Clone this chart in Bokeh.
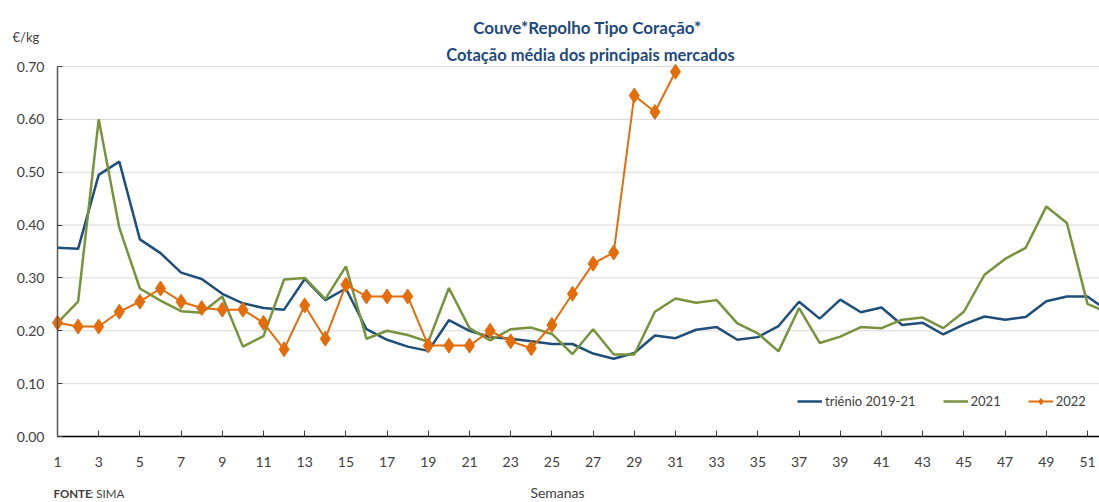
from bokeh.plotting import figure
from bokeh.models import (Range1d, Label, Legend, LegendItem, FixedTicker,
                          ColumnDataSource, CustomJSTickFormatter)
from bokeh.embed import file_html
from bokeh.resources import INLINE

weeks = list(range(1, 53))
trienio = [0.357, 0.355, 0.495, 0.520, 0.373, 0.347, 0.310, 0.298, 0.270, 0.252,
           0.243, 0.240, 0.298, 0.258, 0.280, 0.203, 0.183, 0.170, 0.162, 0.220,
           0.200, 0.188, 0.185, 0.180, 0.175, 0.175, 0.157, 0.147, 0.158, 0.191,
           0.186, 0.202, 0.207, 0.183, 0.188, 0.209, 0.255, 0.223, 0.259, 0.235,
           0.244, 0.211, 0.215, 0.193, 0.212, 0.227, 0.221, 0.226, 0.256, 0.265,
           0.265, 0.237]
y2021 = [0.215, 0.255, 0.600, 0.395, 0.280, 0.257, 0.237, 0.234, 0.265, 0.170,
         0.190, 0.297, 0.300, 0.260, 0.322, 0.185, 0.200, 0.192, 0.179, 0.281,
         0.205, 0.182, 0.203, 0.206, 0.194, 0.156, 0.203, 0.155, 0.155, 0.236,
         0.261, 0.253, 0.258, 0.214, 0.195, 0.161, 0.243, 0.177, 0.189, 0.207,
         0.205, 0.221, 0.225, 0.205, 0.236, 0.306, 0.336, 0.357, 0.435, 0.404,
         0.251, 0.234]
weeks_2022 = list(range(1, 32))
y2022 = [0.215, 0.208, 0.208, 0.236, 0.255, 0.280, 0.255, 0.243, 0.240, 0.240,
         0.215, 0.165, 0.248, 0.185, 0.287, 0.265, 0.265, 0.265, 0.172, 0.172,
         0.172, 0.200, 0.180, 0.167, 0.211, 0.270, 0.327, 0.348, 0.645, 0.614,
         0.690]
x_ticks = list(range(1, 52, 2))
y_ticks = [0.0, 0.1, 0.2, 0.3, 0.4, 0.5, 0.6, 0.7]

title_lines = ["Couve*Repolho Tipo Coração*", "Cotação média dos principais mercados"]
legend_labels = ["triénio 2019-21", "2021", "2022"]
unit_label = "€/kg"
x_title = "Semanas"
source_bold = "FONTE"
source_rest = ": SIMA"

BLUE = "#1F4E79"
GREEN = "#77933C"
ORANGE = "#E46C0A"
TXT = "#404040"
TITLE_C = "#1F497D"
FONT = "Lato"

W, H = 1099, 502
# plot area in page pixels: x 57..1099 (week 1 at 57, 20.6 px per week), y 66 (0.70) .. 436 (0.00)
X0_PX, WEEK_PX = 57, 20.6
Y0_PX, YTOP_PX = 436, 66
y_per_px = 0.70 / (Y0_PX - YTOP_PX)
x_start = 1 - X0_PX / WEEK_PX
x_end = 1 + (W - X0_PX) / WEEK_PX
y_start = -(H - Y0_PX) * y_per_px
y_end = 0.70 + YTOP_PX * y_per_px

p = figure(width=W, height=H, output_backend="svg", toolbar_location=None,
           title=None, x_range=Range1d(x_start, x_end),
           y_range=Range1d(y_start, y_end),
           min_border=0, min_border_left=0, min_border_right=0,
           min_border_top=0, min_border_bottom=0)
p.outline_line_color = None
p.xgrid.visible = False
p.ygrid.visible = False

# horizontal gridlines spanning the plot area only
p.segment(x0=[1] * len(y_ticks), x1=[x_end] * len(y_ticks), y0=y_ticks, y1=y_ticks,
          line_color="#d9d9d9", line_width=1)

p.xaxis.fixed_location = 0
p.xaxis.bounds = (1, x_end)
p.xaxis.ticker = FixedTicker(ticks=x_ticks)
p.xaxis.axis_line_color = "black"
p.xaxis.axis_line_width = 1.5
p.xaxis.major_tick_in = 6
p.xaxis.major_tick_out = 0
p.xaxis.major_tick_line_color = "#404040"
p.xaxis.minor_tick_line_color = None
p.xaxis.major_label_standoff = 20
p.xaxis.major_label_text_font = FONT
p.xaxis.major_label_text_font_size = "14px"
p.xaxis.major_label_text_color = TXT

p.yaxis.fixed_location = 1
p.yaxis.bounds = (0, 0.70)
p.yaxis.ticker = FixedTicker(ticks=y_ticks)
p.yaxis.axis_line_color = "#595959"
p.yaxis.axis_line_width = 1.5
p.yaxis.major_tick_in = 5
p.yaxis.major_tick_out = 0
p.yaxis.major_tick_line_color = "#404040"
p.yaxis.minor_tick_line_color = None
p.yaxis.major_label_standoff = 13
p.yaxis.major_label_text_font = FONT
p.yaxis.major_label_text_font_size = "14px"
p.yaxis.major_label_text_color = TXT
p.yaxis.formatter = CustomJSTickFormatter(code="return tick.toFixed(2);")

src_t = ColumnDataSource(dict(x=weeks, y=trienio))
src_21 = ColumnDataSource(dict(x=weeks, y=y2021))
src_22 = ColumnDataSource(dict(x=weeks_2022, y=y2022))

r_t = p.line("x", "y", source=src_t, line_color=BLUE, line_width=2.5)
r_21 = p.line("x", "y", source=src_21, line_color=GREEN, line_width=2.5)
r_22l = p.line("x", "y", source=src_22, line_color=ORANGE, line_width=2)
# small marker (hidden under the large ones) used for the legend symbol
r_22s = p.scatter("x", "y", source=src_22, marker="diamond", size=8,
                  fill_color=ORANGE, line_color=ORANGE)
r_22m = p.scatter("x", "y", source=src_22, marker="diamond", size=15,
                  fill_color=ORANGE, line_color=ORANGE)

legend = Legend(items=[LegendItem(label=legend_labels[0], renderers=[r_t]),
                       LegendItem(label=legend_labels[1], renderers=[r_21]),
                       LegendItem(label=legend_labels[2], renderers=[r_22l, r_22s])],
                location=(797, H - Y0_PX + 27), orientation="horizontal",
                glyph_width=25, glyph_height=16, label_height=16,
                label_standoff=3, spacing=27, padding=0, margin=0,
                border_line_color=None, background_fill_alpha=0,
                label_text_font=FONT, label_text_font_size="13px",
                label_text_color=TXT)
p.add_layout(legend, "center")


def add_text(x_px, baseline_px, text, size="14px", bold=False, align="left", color=TXT):
    p.add_layout(Label(x=x_px, y=H - baseline_px, x_units="screen", y_units="screen",
                       text=text, text_align=align, text_baseline="alphabetic",
                       text_font=FONT, text_font_style="bold" if bold else "normal",
                       text_font_size=size, text_color=color))


add_text(587, 27, title_lines[0], "17px", True, "center", TITLE_C)
add_text(590, 54, title_lines[1], "16.5px", True, "center", TITLE_C)
add_text(12, 36, unit_label, "13px")
add_text(557, 492, x_title, "14px", False, "center")
add_text(53, 493, source_bold, "11.5px", True)
add_text(90, 493, source_rest, "11.5px")

open("out.html", "w").write(file_html(p, INLINE))
